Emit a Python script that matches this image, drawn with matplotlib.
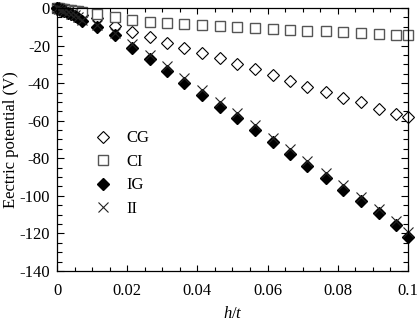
import matplotlib
matplotlib.use("Agg")
import matplotlib.pyplot as plt
from matplotlib.ticker import MultipleLocator, FuncFormatter

plt.rcParams['font.family'] = ['Liberation Serif', 'DejaVu Serif']
plt.rcParams['mathtext.fontset'] = 'custom'
plt.rcParams['mathtext.it'] = 'Liberation Serif:italic'

h_t = [0, 0.0005, 0.001, 0.0015, 0.002, 0.003, 0.004, 0.005, 0.006,
       0.0072, 0.0114, 0.0165, 0.0214, 0.0264, 0.0313, 0.0363, 0.0413,
       0.0463, 0.0513, 0.0564, 0.0615, 0.0664, 0.0713, 0.0766, 0.0816,
       0.0866, 0.0916, 0.0966, 0.1]

cg = [0, -0.2, -0.4, -0.7, -1.0, -1.5, -2.1, -2.7, -3.2,
      -3.7, -5.5, -9.6, -12.6, -15.4, -18.5, -21.1, -24.1,
      -26.8, -29.6, -32.6, -35.6, -38.8, -41.9, -44.5, -47.7,
      -50.0, -53.9, -56.5, -58.0]
ci = [0, -0.1, -0.3, -0.5, -0.7, -1.0, -1.3, -1.6, -1.8,
      -2.0, -3.4, -4.8, -6.4, -7.3, -8.1, -8.7, -9.1,
      -9.6, -10.0, -10.5, -11.0, -11.5, -12.0, -12.5, -12.8,
      -13.2, -13.6, -14.3, -14.2]
ig = [0, -0.4, -0.8, -1.2, -1.6, -2.5, -3.3, -4.2, -5.2,
      -6.9, -9.9, -14.5, -21.1, -27.3, -33.5, -40.1, -46.4,
      -52.7, -58.7, -65.1, -71.6, -77.8, -84.0, -90.6, -96.8,
      -103.0, -109.4, -115.6, -121.8]
ii = [0, -0.4, -0.8, -1.2, -1.5, -2.3, -3.1, -3.9, -4.8,
      -6.5, -9.3, -13.5, -19.0, -25.0, -31.0, -37.5, -43.8,
      -50.0, -56.0, -62.5, -69.0, -75.2, -81.5, -88.0, -94.3,
      -100.5, -107.0, -113.2, -119.5]

fig = plt.figure(figsize=(4.17, 3.21), dpi=100)
ax = fig.add_axes([0.1367, 0.156, 0.8417, 0.819])

ax.plot(h_t, cg, linestyle='none', marker='D', ms=6, mfc='white', mec='black', mew=0.8, label='CG', clip_on=False)
ax.plot(h_t, ci, linestyle='none', marker='s', ms=7.5, mfc='white', mec='#555555', mew=1.0, label='CI', clip_on=False)
ax.plot(h_t, ig, linestyle='none', marker='D', ms=6.5, mfc='black', mec='black', label='IG', clip_on=False)
ax.plot(h_t, ii, linestyle='none', marker='x', ms=7, mec='#222222', mew=0.8, label='II', clip_on=False)

ax.set_xlim(0, 0.1)
ax.set_ylim(-140, 0)
ax.xaxis.set_major_locator(MultipleLocator(0.02))
ax.xaxis.set_minor_locator(MultipleLocator(0.005))
ax.yaxis.set_major_locator(MultipleLocator(20))
ax.yaxis.set_minor_locator(MultipleLocator(5))
ax.xaxis.set_major_formatter(FuncFormatter(lambda v, p: '0' if abs(v) < 1e-9 else ('0.1' if abs(v - 0.1) < 1e-9 else f'{v:.2f}')))
ax.yaxis.set_major_formatter(FuncFormatter(lambda v, p: f'{int(round(v))}'))

ax.tick_params(which='both', direction='in', top=True, right=True, labelsize=12)
ax.tick_params(axis='y', which='major', length=5, width=0.8, pad=5)
ax.tick_params(axis='y', which='minor', length=3.5, width=0.8)
ax.tick_params(axis='x', which='major', length=4, width=0.8, pad=9)
ax.tick_params(axis='x', which='minor', length=3, width=0.8)
for s in ax.spines.values():
    s.set_linewidth(0.9)

ax.set_xlabel('$h$/$t$', fontsize=12, labelpad=5)
ax.set_ylabel('Eectric potential (V)', fontsize=12, labelpad=0)

ax.legend(loc='upper left', bbox_to_anchor=(0.065, 0.56), frameon=False, fontsize=12,
          handletextpad=0.4, labelspacing=0.45, borderaxespad=0)

fig.savefig('out.png', dpi=100)
